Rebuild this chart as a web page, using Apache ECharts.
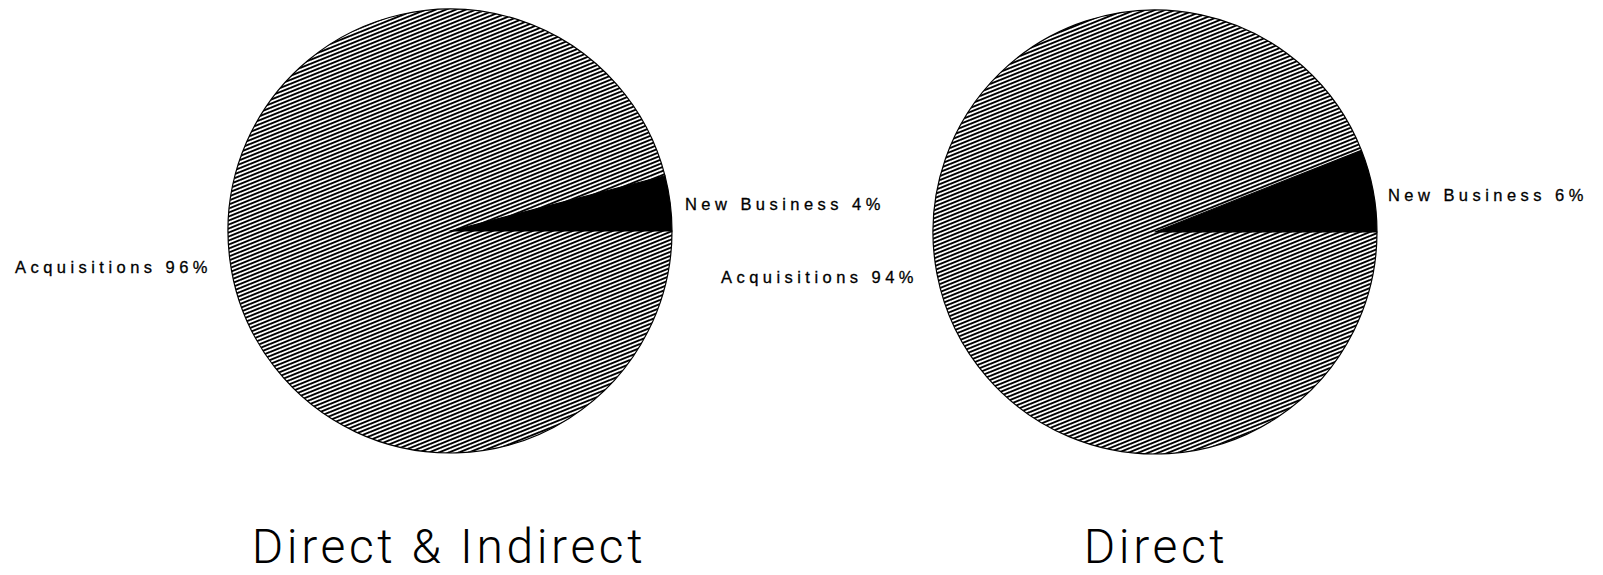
<!DOCTYPE html>
<html lang="en">
<head>
    <meta charset="UTF-8">
    <title>New Business vs Acquisitions</title>
    <script src="https://cdn.jsdelivr.net/npm/echarts@6/dist/echarts.min.js"></script>
    <style>
        html, body { margin: 0; padding: 0; background: #fff; }
        #main { width: 1603px; height: 575px; }
        /* the original lettering is widely spaced */
        #main text { letter-spacing: 0.27em; }
    </style>
</head>
<body>

<div id="main"></div>

<script type="text/javascript">

    // data
    var categories = ['New Business', 'Acquisitions'];
    var directIndirect = [4, 96];
    var direct = [6, 94];
    var pieTitles = ['Direct & Indirect', 'Direct'];

    // hatch tile for the acquisitions slices
    function hatch() {
        var c = document.createElement('canvas');
        c.width = 10;
        c.height = 4;
        var ctx = c.getContext('2d');
        ctx.fillStyle = '#fff';
        ctx.fillRect(0, 0, 10, 4);
        ctx.strokeStyle = '#000';
        ctx.lineWidth = 1.9;
        [0, 4, 8].forEach(function (k) {
            ctx.beginPath();
            ctx.moveTo(0, k);
            ctx.lineTo(10, k - 4);
            ctx.stroke();
        });
        return c;
    }
    var hatchFill = {image: hatch(), repeat: 'repeat', imageWidth: 10, imageHeight: 4};

    // label anchors per pie: [new business, acquisitions]
    var labelPos = [
        [[685, 204], [15, 267]],
        [[1388, 195], [721, 277]]
    ];

    function pieSeries(idx, values, center) {
        var total = values[0] + values[1];
        return {
            type: 'pie',
            center: center,
            radius: 222,
            startAngle: values[0] / total * 360,
            clockwise: true,
            avoidLabelOverlap: false,
            silent: true,
            label: {
                show: true,
                color: '#000',
                fontFamily: 'Liberation Sans',
                fontSize: 16.5,
                textBorderColor: '#000',
                textBorderWidth: 0.3,
                formatter: '{b} {c}%'
            },
            labelLine: {show: false},
            labelLayout: function (p) {
                var pos = labelPos[idx][p.dataIndex];
                return {x: pos[0], y: pos[1], align: 'left', verticalAlign: 'middle'};
            },
            itemStyle: {borderColor: '#000', borderWidth: 1.2},
            data: categories.map(function (name, i) {
                return {
                    name: name,
                    value: values[i],
                    itemStyle: {color: i === 0 ? '#000' : hatchFill}
                };
            })
        };
    }

    function titleText(text, x) {
        return {
            type: 'text', x: x, y: 546,
            style: {text: text, align: 'center', verticalAlign: 'middle', fill: '#000',
                fontFamily: 'Roboto', fontWeight: 300, fontSize: 48, lineHeight: 36}
        };
    }

    var myChart = echarts.init(document.getElementById('main'), null, {renderer: 'svg'});

    var option = {
        backgroundColor: '#fff',
        animation: false,
        graphic: [
            titleText(pieTitles[0], 449),
            titleText(pieTitles[1], 1156)
        ],
        series: [
            pieSeries(0, directIndirect, [450, 231]),
            pieSeries(1, direct, [1155, 232])
        ]
    };

    myChart.setOption(option);

    // titles are spaced less than the slice labels
    function fixSpacing() {
        document.querySelectorAll('#main text').forEach(function (t) {
            if (pieTitles.indexOf(t.textContent) >= 0) {
                t.style.letterSpacing = '3.6px';
            }
        });
    }
    fixSpacing();
    myChart.on('finished', fixSpacing);

</script>

</body>
</html>
